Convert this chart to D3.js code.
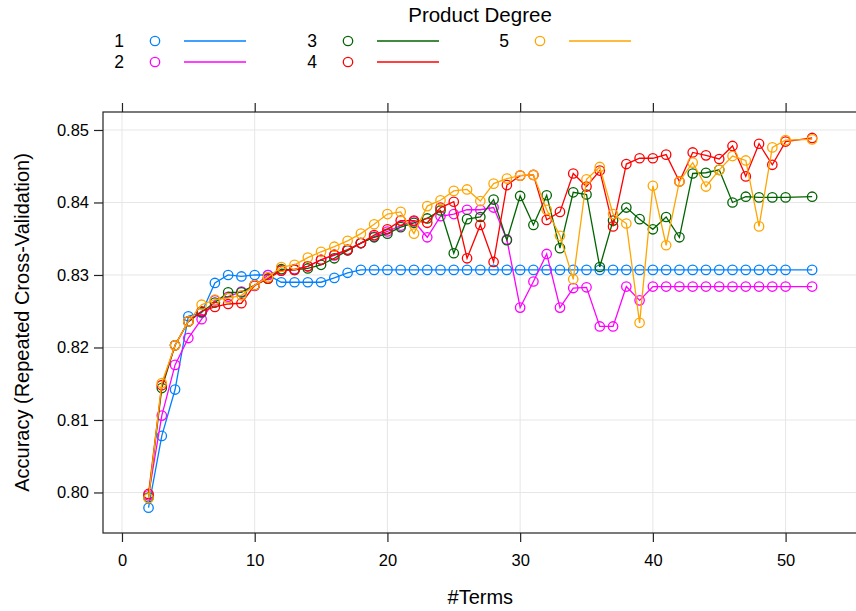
<!DOCTYPE html>
<html>
<head>
<meta charset="utf-8">
<script src="https://cdn.jsdelivr.net/npm/d3@7"></script>
<style>
  html, body { margin: 0; padding: 0; background: #fff; }
  svg { display: block; font-family: "Liberation Sans", Arial, sans-serif; }
</style>
</head>
<body>
<svg id="chart" width="856" height="611"></svg>
<script>
// Number of terms retained in the model
const terms = [2,3,4,5,6,7,8,9,10,11,12,13,14,15,16,17,18,19,20,21,22,23,24,25,26,27,28,29,30,31,32,33,34,35,36,37,38,39,40,41,42,43,44,45,46,47,48,49,50,52];

// Product degree levels (legend keys)
const degrees = ["1", "2", "3", "4", "5"];
const degreeColors = ["#0080ff", "#ff00ff", "#006400", "#ff0000", "#ffa500"];

// Cross-validated accuracy per product degree
const degree1 = [0.7979,0.8078,0.8142,0.8243,0.8248,0.8289,0.8300,0.8298,0.8300,0.8300,0.8290,0.8290,0.8290,0.8290,0.8296,0.8303,0.8307,0.8307,0.8307,0.8307,0.8307,0.8307,0.8307,0.8307,0.8307,0.8307,0.8307,0.8307,0.8307,0.8307,0.8307,0.8307,0.8307,0.8307,0.8307,0.8307,0.8307,0.8307,0.8307,0.8307,0.8307,0.8307,0.8307,0.8307,0.8307,0.8307,0.8307,0.8307,0.8307,0.8307];
const degree2 = [0.7996,0.8106,0.8176,0.8213,0.8239,0.8265,0.8270,0.8277,0.8285,0.8300,0.8306,0.8308,0.8312,0.8321,0.8327,0.8334,0.8344,0.8353,0.8360,0.8368,0.8374,0.8352,0.8381,0.8384,0.8390,0.8390,0.8393,0.8349,0.8255,0.8291,0.8329,0.8255,0.8282,0.8283,0.8229,0.8229,0.8284,0.8265,0.8284,0.8284,0.8284,0.8284,0.8284,0.8284,0.8284,0.8284,0.8284,0.8284,0.8284,0.8284];
const degree3 = [0.7993,0.8144,0.8203,0.8236,0.8249,0.8262,0.8276,0.8276,0.8286,0.8295,0.8308,0.8307,0.8309,0.8314,0.8323,0.8334,0.8344,0.8352,0.8357,0.8366,0.8372,0.8378,0.8389,0.8330,0.8377,0.8380,0.8404,0.8348,0.8409,0.8369,0.8410,0.8337,0.8414,0.8411,0.8311,0.8375,0.8393,0.8377,0.8363,0.8380,0.8352,0.8440,0.8441,0.8445,0.8400,0.8408,0.8407,0.8407,0.8407,0.8408];
const degree4 = [0.7998,0.8148,0.8203,0.8236,0.8250,0.8256,0.8260,0.8261,0.8286,0.8295,0.8306,0.8307,0.8312,0.8321,0.8328,0.8335,0.8344,0.8355,0.8363,0.8375,0.8375,0.8372,0.8393,0.8401,0.8323,0.8369,0.8318,0.8424,0.8437,0.8438,0.8376,0.8387,0.8440,0.8422,0.8444,0.8367,0.8453,0.8461,0.8461,0.8466,0.8429,0.8469,0.8465,0.8460,0.8478,0.8436,0.8481,0.8452,0.8484,0.8489];
const degree5 = [0.7992,0.8151,0.8203,0.8236,0.8259,0.8266,0.8268,0.8272,0.8286,0.8297,0.8311,0.8314,0.8324,0.8332,0.8339,0.8347,0.8357,0.8370,0.8384,0.8387,0.8357,0.8395,0.8403,0.8416,0.8418,0.8402,0.8426,0.8433,0.8437,0.8438,0.8390,0.8354,0.8294,0.8432,0.8449,0.8384,0.8371,0.8234,0.8423,0.8341,0.8429,0.8455,0.8422,0.8445,0.8464,0.8458,0.8367,0.8476,0.8486,0.8487];

const xTicks = [0, 10, 20, 30, 40, 50];
const yTicks = [0.80, 0.81, 0.82, 0.83, 0.84, 0.85];

const seriesValues = [degree1, degree2, degree3, degree4, degree5];

const svg = d3.select("#chart");
const panel = { left: 103, right: 857, top: 112, bottom: 533 };

const x = d3.scaleLinear().domain([-1.43, 55.38]).range([panel.left, panel.right]);
const y = d3.scaleLinear().domain([0.79441, 0.85248]).range([panel.bottom, panel.top]);

// Background grid
const grid = svg.append("g").attr("stroke", "#e6e6e6").attr("stroke-width", 1);
grid.selectAll("line.gx").data(xTicks).join("line")
  .attr("x1", d => x(d)).attr("x2", d => x(d))
  .attr("y1", panel.top).attr("y2", panel.bottom);
grid.selectAll("line.gy").data(yTicks).join("line")
  .attr("x1", panel.left).attr("x2", panel.right)
  .attr("y1", d => y(d)).attr("y2", d => y(d));

// Axes: ticks on left, bottom, top (no labels on top)
const tickFont = "16.5px";
const bottomAxis = d3.axisBottom(x).tickValues(xTicks).tickFormat(d3.format("d")).tickSizeOuter(0).tickSizeInner(9).tickPadding(12);
const topAxis = d3.axisTop(x).tickValues(xTicks).tickFormat("").tickSizeOuter(0).tickSizeInner(9);
const leftAxis = d3.axisLeft(y).tickValues(yTicks).tickFormat(d3.format(".2f")).tickSizeOuter(0).tickSizeInner(9).tickPadding(5);

function styleAxis(g) {
  g.select(".domain").remove();
  g.selectAll(".tick line").attr("stroke", "#222").attr("stroke-width", 1.2);
  g.selectAll(".tick text").attr("fill", "#000").style("font-size", tickFont)
    .style("font-family", "'Liberation Sans', Arial, sans-serif");
}
svg.append("g").attr("transform", `translate(0,${panel.bottom})`).call(bottomAxis).call(styleAxis);
svg.append("g").attr("transform", `translate(0,${panel.top})`).call(topAxis).call(styleAxis);
svg.append("g").attr("transform", `translate(${panel.left},0)`).call(leftAxis).call(styleAxis);

// Data: lines then open circles for each degree
const plot = svg.append("g");
seriesValues.forEach((vals, i) => {
  const pts = terms.map((t, j) => [t, vals[j]]);
  const g = plot.append("g");
  g.append("path")
    .datum(pts)
    .attr("fill", "none")
    .attr("stroke", degreeColors[i])
    .attr("stroke-width", 1.3)
    .attr("d", d3.line().x(d => x(d[0])).y(d => y(d[1])));
  g.selectAll("circle").data(pts).join("circle")
    .attr("cx", d => x(d[0])).attr("cy", d => y(d[1]))
    .attr("r", 4.7)
    .attr("fill", "none")
    .attr("stroke", degreeColors[i])
    .attr("stroke-width", 1.3);
});

// Panel border
svg.append("rect")
  .attr("x", panel.left).attr("y", panel.top)
  .attr("width", panel.right - panel.left).attr("height", panel.bottom - panel.top)
  .attr("fill", "none").attr("stroke", "#222").attr("stroke-width", 1.2);

// Axis titles
svg.append("text")
  .attr("x", x(27)).attr("y", 604)
  .attr("text-anchor", "middle")
  .style("font-size", "20px")
  .text("#Terms");
svg.append("text")
  .attr("transform", `translate(29,${(panel.top + panel.bottom) / 2}) rotate(-90)`)
  .attr("text-anchor", "middle")
  .style("font-size", "20px")
  .text("Accuracy (Repeated Cross-Validation)");

// Legend
const legend = svg.append("g");
legend.append("text")
  .attr("x", 480).attr("y", 22)
  .attr("text-anchor", "middle")
  .style("font-size", "20.5px")
  .text("Product Degree");

const colX = [119, 312, 504];
const rowY = [41, 62];
degrees.forEach((d, i) => {
  const col = Math.floor(i / 2), row = i % 2;
  const cx = colX[col], cy = rowY[row];
  const item = legend.append("g");
  item.append("text")
    .attr("x", cx).attr("y", cy + 6)
    .attr("text-anchor", "middle")
    .style("font-size", "17.5px")
    .text(d);
  item.append("circle")
    .attr("cx", cx + 36).attr("cy", cy)
    .attr("r", 4.7)
    .attr("fill", "none")
    .attr("stroke", degreeColors[i])
    .attr("stroke-width", 1.3);
  item.append("line")
    .attr("x1", cx + 65).attr("x2", cx + 127)
    .attr("y1", cy).attr("y2", cy)
    .attr("stroke", degreeColors[i])
    .attr("stroke-width", 1.3);
});
</script>
</body>
</html>
